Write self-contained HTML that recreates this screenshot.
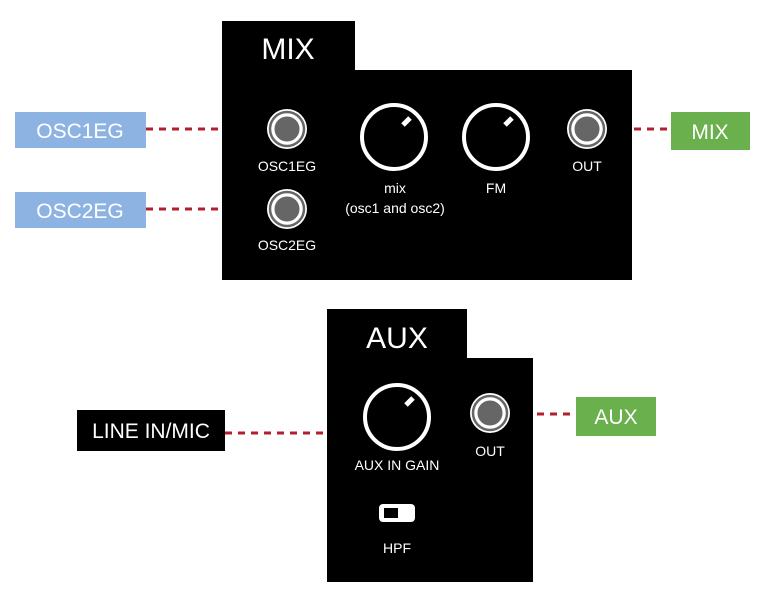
<!DOCTYPE html>
<html><head><style>
body{margin:0;width:759px;height:599px;background:#fff;overflow:hidden}
svg text{font-family:"Liberation Sans",sans-serif}
</style></head><body>
<svg width="759" height="599" viewBox="0 0 759 599">
<defs>
<g id="jack"><circle r="20" fill="#fff"/><circle r="15" fill="#666"/><circle r="14" fill="none" stroke="#fff" stroke-width="3"/><circle r="17" fill="none" stroke="#666" stroke-width="2.5"/></g>
<g id="knob"><circle r="32" fill="none" stroke="#fff" stroke-width="4"/><line x1="9" y1="-12" x2="16" y2="-19" stroke="#fff" stroke-width="5"/></g>
</defs>
<g stroke="#b2202e" stroke-width="3" stroke-dasharray="7 6" fill="none">
<line x1="146" y1="129" x2="265" y2="129"/>
<line x1="146" y1="209" x2="265" y2="209"/>
<line x1="608" y1="129" x2="671" y2="129"/>
<line x1="225" y1="433" x2="327" y2="433"/>
<line x1="511" y1="414" x2="576" y2="414"/>
</g>
<path d="M222 21H355V70H632V280H222Z" fill="#000"/>
<text x="288" y="59" fill="#fff" font-size="30" text-anchor="middle">MIX</text>
<use href="#jack" x="287" y="129"/>
<use href="#jack" x="287" y="209"/>
<use href="#jack" x="587" y="129"/>
<use href="#knob" x="394" y="137"/>
<use href="#knob" x="496" y="137"/>
<g fill="#fff" font-size="14" text-anchor="middle">
<text x="287" y="171">OSC1EG</text>
<text x="287" y="250">OSC2EG</text>
<text x="587" y="171">OUT</text>
<text x="395" y="193">mix</text>
<text x="395" y="213">(osc1 and osc2)</text>
<text x="496" y="193">FM</text>
</g>
<path d="M327 309H467V358H533V582H327Z" fill="#000"/>
<text x="397" y="348" fill="#fff" font-size="30" text-anchor="middle">AUX</text>
<use href="#knob" x="397" y="417"/>
<use href="#jack" x="490" y="413"/>
<rect x="379" y="504" width="36" height="18" rx="4" fill="#fff"/>
<rect x="384" y="508" width="14" height="10" fill="#000"/>
<g fill="#fff" font-size="14" text-anchor="middle">
<text x="397" y="470">AUX IN GAIN</text>
<text x="490" y="456">OUT</text>
<text x="397" y="553">HPF</text>
</g>
<rect x="15" y="112" width="131" height="36" fill="#8db3e2"/>
<rect x="15" y="192" width="131" height="36" fill="#8db3e2"/>
<rect x="671" y="112" width="79" height="38" fill="#6ab04c"/>
<rect x="576" y="397" width="80" height="39" fill="#6ab04c"/>
<rect x="77" y="410" width="148" height="41" fill="#000"/>
<g fill="#fff" font-size="21" text-anchor="middle">
<text x="80" y="138">OSC1EG</text>
<text x="80" y="218">OSC2EG</text>
<text x="710" y="139">MIX</text>
<text x="616" y="424">AUX</text>
<text x="151" y="438">LINE IN/MIC</text>
</g>
</svg>
</body></html>
